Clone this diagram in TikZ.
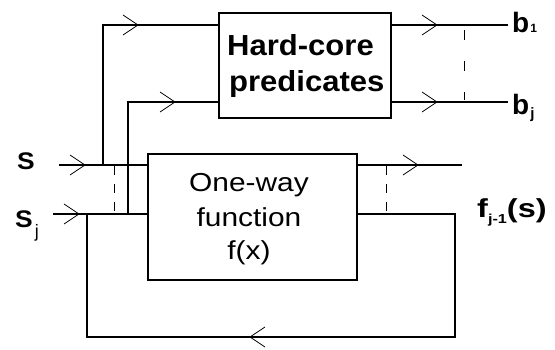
\documentclass[tikz,border=0pt]{standalone}
\usepackage{fontspec}
\setmainfont{Liberation Sans}
\newcommand{\fs}[1]{\fontsize{#1}{#1}\selectfont}
\begin{document}
\begin{tikzpicture}[x=1pt,y=-1pt,
  wire/.style={line width=1.1pt},
  chev/.style={line width=0.8pt},
  dsh/.style={line width=0.9pt, dash pattern=on 9pt off 9pt},
  box/.style={draw, line width=1.1pt, inner sep=0pt},
  lbl/.style={inner sep=0pt, anchor=base west},
  ctr/.style={inner sep=0pt, anchor=base}]
\useasboundingbox (0,0) rectangle (555,350);
% boxes
\node[box, minimum width=172pt, minimum height=105pt] (hc) at (305,65.5) {};
\node[box, minimum width=209pt, minimum height=126pt] (ow) at (252.5,217) {};
% coordinates
\coordinate (sin) at (59,165);
\coordinate (sjin) at (53,214);
\coordinate (j1) at (103,165);
\coordinate (j2) at (128,214);
\coordinate (t1) at (103,25);
\coordinate (t2) at (128,102);
\coordinate (fb) at (87,214);
\coordinate (o1) at (462,165);
\coordinate (b1e) at (508,25);
\coordinate (bje) at (508,102);
\coordinate (fc2) at (455,337);
% wires
\draw[wire] (sin) -- (sin -| ow.west);
\draw[wire] (sjin) -- (sjin -| ow.west);
\draw[wire] (j1) |- (hc.west |- t1);
\draw[wire] (j2) |- (hc.west |- t2);
\draw[wire] (ow.east |- sin) -- (o1);
\draw[wire] (ow.east |- sjin) -| (fc2) -| (fb);
\draw[wire] (hc.east |- t1) -- (b1e);
\draw[wire] (hc.east |- t2) -- (bje);
% chevrons
\foreach \x/\y in {85/165, 79/214, 138/25, 175/102, 418/165, 437/25, 437/102}
  \draw[chev] (\x,\y) ++(-15,-10) -- (\x,\y) -- ++(-15,10);
\draw[chev] (250,337) ++(15,-10) -- (250,337) -- ++(15,10);
% dashed
\draw[dsh] (114,166) -- (114,214);
\draw[dsh] (386,166) -- (386,214);
\draw[line width=0.9pt, dash pattern=on 10pt off 21pt] (464,30) -- (464,100);
% labels
\node[lbl] (hct) at (227,56) {\fs{29}\bfseries\scalebox{1.07}[1]{Hard-core}};
\node[lbl] (hcp) at (229,92) {\fs{29}\bfseries\scalebox{1.07}[1]{predicates}};
\node[ctr] (ow1) at (249,192) {\fs{26}\scalebox{1.15}[1]{One-way}};
\node[ctr] (ow2) at (249,227) {\fs{26}\scalebox{1.15}[1]{function}};
\node[ctr] (ow3) at (249,260) {\fs{26}\scalebox{1.15}[1]{f(x)}};
\node[lbl] (s) at (17,170) {\fs{24}\bfseries\scalebox{1.1}[1]{S}};
\node[lbl] (sj) at (15,228) {\fs{24}\bfseries\scalebox{1.1}[1]{S}\hspace{2pt}\raisebox{-10pt}{\fs{18}\mdseries j}};
\node[lbl] (b1) at (512,33) {\fs{28}\bfseries b\hspace{1pt}\fs{12}1};
\node[lbl] (bj) at (512,115) {\fs{28}\bfseries b\hspace{1pt}\raisebox{-4pt}{\fs{15}j}};
\node[lbl] (fj) at (477,218) {\scalebox{1.25}[1]{\fs{26}\bfseries f\raisebox{-6pt}{\fs{13}j-1}(s)}};
\end{tikzpicture}
\end{document}
